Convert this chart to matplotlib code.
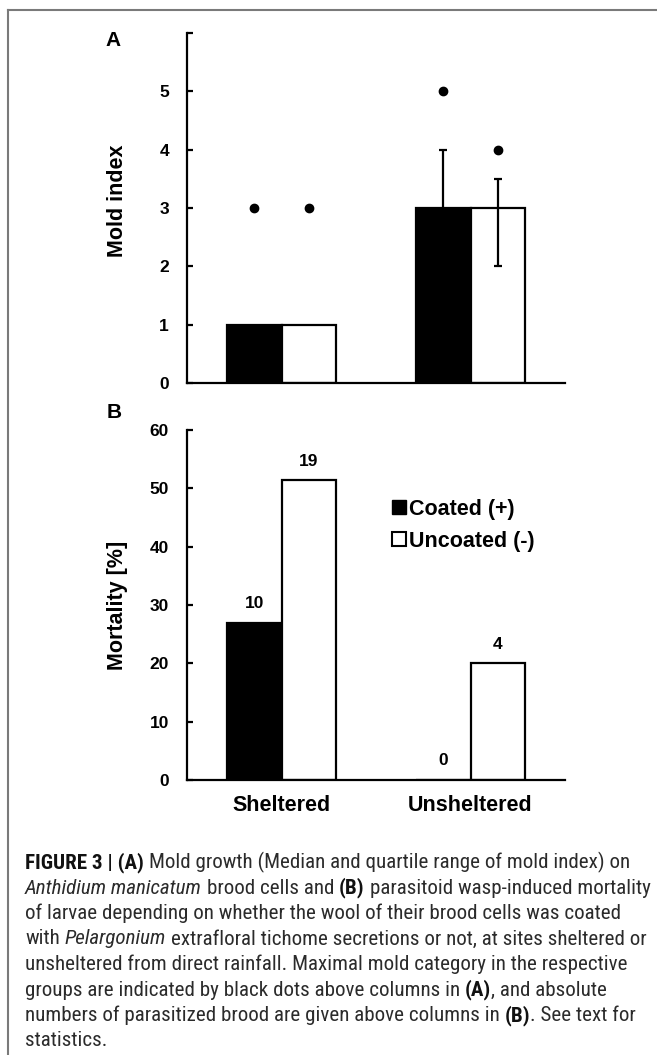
import re
import numpy as np
import matplotlib
matplotlib.use("Agg")
import matplotlib.pyplot as plt
from matplotlib import font_manager
from matplotlib.lines import Line2D

# data
sites = ["Sheltered", "Unsheltered"]
treatments = ["Coated (+)", "Uncoated (-)"]

mold_median_coated = [1, 3]
mold_median_uncoated = [1, 3]
mold_q1_coated = [1, 2]
mold_q3_coated = [1, 4]
mold_q1_uncoated = [1, 2]
mold_q3_uncoated = [1, 3.5]
mold_max_coated = [3, 5]
mold_max_uncoated = [3, 4]

mortality_coated = [27.0, 0.0]
mortality_uncoated = [51.4, 20.0]
parasitized_coated = [10, 0]
parasitized_uncoated = [19, 4]

caption_lines = [
    "<b>FIGURE 3 | (A)</b> Mold growth (Median and quartile range of mold index) on",
    "<i>Anthidium manicatum</i> brood cells and <b>(B)</b> parasitoid wasp-induced mortality",
    "of larvae depending on whether the wool of their brood cells was coated",
    "with <i>Pelargonium</i> extrafloral tichome secretions or not, at sites sheltered or",
    "unsheltered from direct rainfall. Maximal mold category in the respective",
    "groups are indicated by black dots above columns in <b>(A)</b>, and absolute",
    "numbers of parasitized brood are given above columns in <b>(B)</b>. See text for",
    "statistics.",
]

plt.rcParams['font.family'] = ['Liberation Sans', 'DejaVu Sans']
plt.rcParams['font.weight'] = 'bold'

W, H = 657, 1055
fig = plt.figure(figsize=(W / 100, H / 100), dpi=100)
fig.patch.set_facecolor('white')

x = np.arange(len(sites))
bw = 0.29
tick_size = 12.5
label_size = 15.5


def style_axis(ax):
    for side in ['top', 'right']:
        ax.spines[side].set_visible(False)
    for side in ['left', 'bottom']:
        ax.spines[side].set_linewidth(1.6)
        ax.spines[side].set_color('black')
    ax.set_xlim(-0.5, 1.5)
    ax.tick_params(axis='y', direction='in', length=4, width=1.6,
                   labelsize=tick_size, pad=13)
    ax.tick_params(axis='x', length=0)


# panel A: mold index
ax1 = fig.add_axes([187 / W, 1 - 383 / H, 378 / W, 350 / H])
style_axis(ax1)
ax1.bar(x - bw / 2, mold_median_coated, bw, color='black', edgecolor='black', linewidth=1.6)
ax1.bar(x + bw / 2, mold_median_uncoated, bw, color='white', edgecolor='black', linewidth=1.6)

for xs, med, q1, q3 in [(x - bw / 2, mold_median_coated, mold_q1_coated, mold_q3_coated),
                        (x + bw / 2, mold_median_uncoated, mold_q1_uncoated, mold_q3_uncoated)]:
    med, q1, q3 = np.array(med), np.array(q1), np.array(q3)
    keep = q3 > q1
    ax1.errorbar(xs[keep], med[keep], yerr=[med[keep] - q1[keep], q3[keep] - med[keep]],
                 fmt='none', ecolor='black', elinewidth=1.6, capsize=3, capthick=1.6, zorder=3)

ax1.plot(x - bw / 2, mold_max_coated, 'o', color='black', ms=6, ls='none')
ax1.plot(x + bw / 2, mold_max_uncoated, 'o', color='black', ms=6, ls='none')

ax1.set_ylim(0, 6)
ax1.set_yticks(range(7))
ax1.set_yticklabels([str(v) for v in range(6)] + [''])
ax1.set_xticks([])
ax1.set_ylabel('Mold index', fontsize=label_size, fontweight='bold')
ax1.yaxis.set_label_coords(-0.157, 0.52)

# panel B: mortality
ax2 = fig.add_axes([187 / W, 1 - 780 / H, 378 / W, 350 / H])
style_axis(ax2)
ax2.bar(x - bw / 2, mortality_coated, bw, color='black', edgecolor='black', linewidth=1.6)
ax2.bar(x + bw / 2, mortality_uncoated, bw, color='white', edgecolor='black', linewidth=1.6)
for xs, vals, ns in [(x - bw / 2, mortality_coated, parasitized_coated),
                     (x + bw / 2, mortality_uncoated, parasitized_uncoated)]:
    for xi, v, n in zip(xs, vals, ns):
        ax2.annotate(str(n), (xi, v), xytext=(0, 10.5), textcoords='offset points',
                     ha='center', va='baseline', fontsize=tick_size, fontweight='bold')

ax2.set_ylim(0, 60)
ax2.set_yticks(range(0, 61, 10))
ax2.set_xticks(x)
ax2.set_xticklabels(sites, fontsize=label_size, fontweight='bold')
ax2.tick_params(axis='x', pad=11)
ax2.set_ylabel('Mortality [%]', fontsize=label_size, fontweight='bold')
ax2.yaxis.set_label_coords(-0.157, 0.5)

handles = [Line2D([], [], marker='s', ls='none', mfc='black', mec='black', ms=10),
           Line2D([], [], marker='s', ls='none', mfc='white', mec='black', mew=1.5, ms=10)]
ax2.legend(handles, treatments, loc='upper left', bbox_to_anchor=((381 - 187) / 378, (780 - 488) / 350),
           frameon=False, borderpad=0, handlelength=0.7, handletextpad=0.1, labelspacing=0.5,
           prop={'size': label_size, 'weight': 'bold'})

fig.text(113 / W, 1 - 41 / H, 'A', ha='center', va='center', fontsize=15, fontweight='bold')
fig.text(114 / W, 1 - 413 / H, 'B', ha='center', va='center', fontsize=15, fontweight='bold')

# grey frame (top and left edges of the figure box)
fig.add_artist(Line2D([8 / W, 8 / W], [0, 1 - 10 / H], color='#7a7a7a', lw=1.5, transform=fig.transFigure))
fig.add_artist(Line2D([8 / W, 1], [1 - 10 / H, 1 - 10 / H], color='#7a7a7a', lw=1.5, transform=fig.transFigure))

# caption with mixed bold / italic runs
available = {f.name for f in font_manager.fontManager.ttflist}
cap_family, cap_stretch = 'DejaVu Sans', 'condensed'
for name in ['Liberation Sans Narrow', 'Roboto Condensed', 'Open Sans Condensed']:
    if name in available:
        cap_family, cap_stretch = name, 'normal'
        break

renderer = fig.canvas.get_renderer()


def parse(line):
    parts = []
    for chunk in re.split(r'(<b>.*?</b>|<i>.*?</i>)', line):
        if not chunk:
            continue
        if chunk.startswith('<b>'):
            parts.append((chunk[3:-4], 'bold', 'normal'))
        elif chunk.startswith('<i>'):
            parts.append((chunk[3:-4], 'normal', 'italic'))
        else:
            parts.append((chunk, 'normal', 'normal'))
    return parts


def text_kw(size, weight, style):
    return dict(fontsize=size, fontweight=weight, fontstyle=style,
                family=cap_family, fontstretch=cap_stretch)


def seg_width(s, kw):
    t = fig.text(0, 0, 'I' + s + 'I', **kw)
    w1 = t.get_window_extent(renderer).width
    t.remove()
    t = fig.text(0, 0, 'II', **kw)
    w0 = t.get_window_extent(renderer).width
    t.remove()
    return w1 - w0


def line_width(line, size):
    return sum(seg_width(s, text_kw(size, w, st)) for s, w, st in parse(line))


# fit the longest caption line to the text block width
base = 10
cap_size = base * 624 / max(line_width(l, base) for l in caption_lines)

x0 = 25
for i, line in enumerate(caption_lines):
    xpos = x0
    ybase = 868 + 25.5 * i
    for s, w, st in parse(line):
        kw = text_kw(cap_size, w, st)
        lead = len(s) - len(s.lstrip(' '))
        shift = seg_width(' ' * lead, kw) if lead else 0
        color = '#111111' if w == 'bold' else '#2b2b2b'
        fig.text((xpos + shift) / W, 1 - ybase / H, s.strip(' '), ha='left', va='baseline',
                 color=color, **kw)
        xpos += seg_width(s, kw)

fig.savefig('out.png', dpi=100, facecolor='white')
